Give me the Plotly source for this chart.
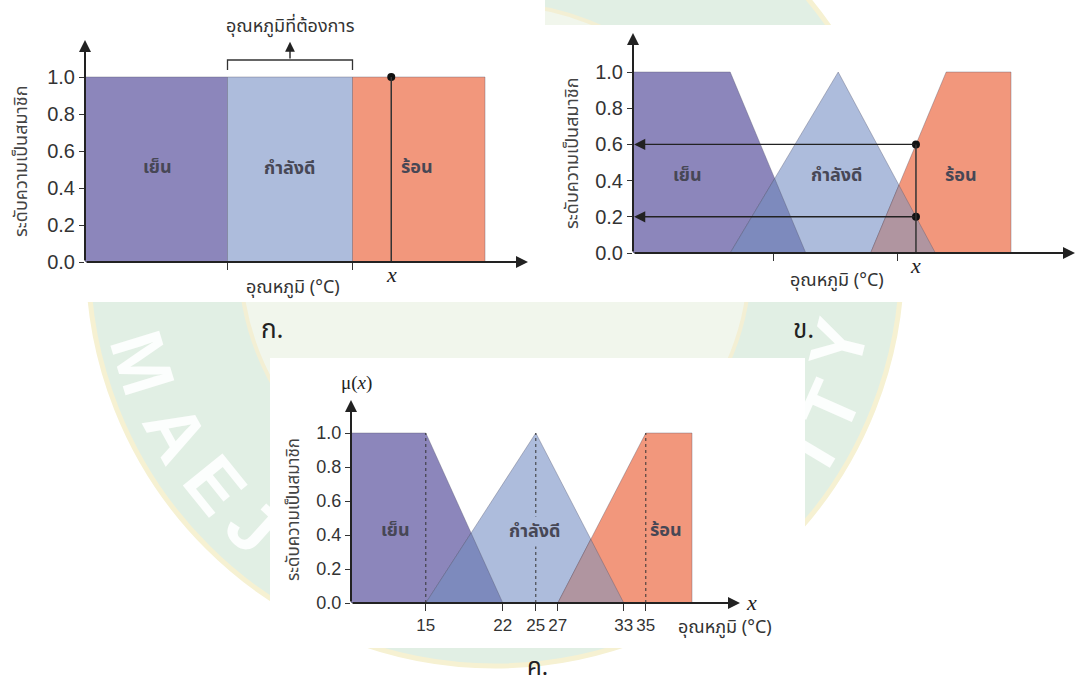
import plotly.graph_objects as go

W, H = 1078, 688

# ---------------- data ----------------
levels = [0.0, 0.2, 0.4, 0.6, 0.8, 1.0]
level_text = ["0.0", "0.2", "0.4", "0.6", "0.8", "1.0"]
set_names = ["เย็น", "กำลังดี", "ร้อน"]

# ก. crisp sets: boundaries of cold | good | hot, and the sample temperature
crisp_edges = [8.6, 20.0, 30.0, 40.6]
crisp_x = 33.1
crisp_ticks = [20.0, 30.0]

# ข. fuzzy sets (trapezoid / triangle break points)
b_cold = [6.0, 15.0, 22.0]
b_good = [15.0, 25.0, 34.0]
b_hot = [28.0, 35.0, 41.0]
b_x = 32.2
b_ticks = [19.0, 30.5]

# ค. fuzzy sets with labelled break points
c_cold = [8.2, 15.0, 22.0]
c_good = [15.0, 25.0, 33.0]
c_hot = [27.0, 35.0, 39.2]
c_ticks = [15, 22, 25, 27, 33, 35]

# ---------------- style ----------------
COLD = "#8c86bb"
GOOD = "#adbcdc"
HOT = "#f2977c"
COLD_GOOD = "#7d8abd"
GOOD_HOT = "#b095a0"
EDGE = "rgba(80,80,105,0.45)"
AXIS = "#222222"
LABEL = "#474755"
THAI = "Noto Sans Thai, Loma, Garuda, Tahoma, Noto Sans, sans-serif"
NUM = "Liberation Sans, Arial, sans-serif"
SERIF = "Liberation Serif, Times New Roman, serif"
MINT = "#e1efe4"


def px(x):
    return x / W


def py(y):
    return 1 - y / H


def intersect(p1, p2, p3, p4):
    (x1, y1), (x2, y2), (x3, y3), (x4, y4) = p1, p2, p3, p4
    d = (x1 - x2) * (y3 - y4) - (y1 - y2) * (x3 - x4)
    t = ((x1 - x3) * (y3 - y4) - (y1 - y3) * (x3 - x4)) / d
    return x1 + t * (x2 - x1), y1 + t * (y2 - y1)


def cold_poly(c):
    return [(c[0], 0), (c[0], 1), (c[1], 1), (c[2], 0)]


def good_poly(g):
    return [(g[0], 0), (g[1], 1), (g[2], 0)]


def hot_poly(h):
    return [(h[0], 0), (h[1], 1), (h[2], 1), (h[2], 0)]


def overlap_cold_good(c, g):
    xi, yi = intersect((c[1], 1), (c[2], 0), (g[0], 0), (g[1], 1))
    return [(g[0], 0), (xi, yi), (c[2], 0)]


def overlap_good_hot(g, h):
    xi, yi = intersect((g[1], 1), (g[2], 0), (h[0], 0), (h[1], 1))
    return [(h[0], 0), (xi, yi), (g[2], 0)]


def mu_falling(pts, x):
    return (pts[2] - x) / (pts[2] - pts[1])


def mu_rising(pts, x):
    return (x - pts[0]) / (pts[1] - pts[0])


fig = go.Figure()


def add_poly(pts, color, xa, ya):
    xs = [p[0] for p in pts] + [pts[0][0]]
    ys = [p[1] for p in pts] + [pts[0][1]]
    fig.add_trace(go.Scatter(x=xs, y=ys, xaxis=xa, yaxis=ya, mode="lines",
                             fill="toself", fillcolor=color,
                             line=dict(color=EDGE, width=0.8),
                             hoverinfo="skip", showlegend=False))


# ---------- panel ก ----------
crisp_colors = [COLD, GOOD, HOT]
for i in range(3):
    x0, x1 = crisp_edges[i], crisp_edges[i + 1]
    add_poly([(x0, 0), (x0, 1), (x1, 1), (x1, 0)], crisp_colors[i], "x", "y")

# ---------- panel ข ----------
add_poly(cold_poly(b_cold), COLD, "x2", "y2")
add_poly(good_poly(b_good), GOOD, "x2", "y2")
add_poly(hot_poly(b_hot), HOT, "x2", "y2")
add_poly(overlap_cold_good(b_cold, b_good), COLD_GOOD, "x2", "y2")
add_poly(overlap_good_hot(b_good, b_hot), GOOD_HOT, "x2", "y2")

# ---------- panel ค ----------
add_poly(cold_poly(c_cold), COLD, "x3", "y3")
add_poly(good_poly(c_good), GOOD, "x3", "y3")
add_poly(hot_poly(c_hot), HOT, "x3", "y3")
add_poly(overlap_cold_good(c_cold, c_good), COLD_GOOD, "x3", "y3")
add_poly(overlap_good_hot(c_good, c_hot), GOOD_HOT, "x3", "y3")

# membership values read at the sample temperatures
b_hot_mu = mu_rising(b_hot, b_x)
b_good_mu = mu_falling(b_good, b_x)

fig.add_trace(go.Scatter(x=[crisp_x], y=[1.0], xaxis="x", yaxis="y", mode="markers",
                         marker=dict(color="#111", size=8), hoverinfo="skip", showlegend=False))
fig.add_trace(go.Scatter(x=[b_x, b_x], y=[b_hot_mu, b_good_mu], xaxis="x2", yaxis="y2",
                         mode="markers", marker=dict(color="#111", size=8),
                         hoverinfo="skip", showlegend=False))

# ---------- axes ----------
A_X = (85, 528, crisp_edges[0], 12.5)
B_X = (633, 1075, b_cold[0], 10.8)
C_X = (351, 740, c_cold[0], 11.0)
A_Y = (262, 40, 185.0)
B_Y = (253, 33, 181.0)
C_Y = (603, 400, 170.0)


def xrange_of(spec):
    p0, p1, v0, scale = spec
    return [v0, v0 + (p1 - p0) / scale]


def yrange_of(spec):
    b, t, scale = spec
    return [0, (b - t) / scale]


def yaxis_cfg(spec, size):
    b, t, _ = spec
    return dict(domain=[py(b), py(t)], range=yrange_of(spec), tickvals=levels,
                ticktext=level_text, ticks="outside", ticklen=5, tickwidth=1.2,
                tickcolor="#333", showgrid=False, zeroline=False, showline=False,
                tickfont=dict(family=NUM, size=size, color="#333"), automargin=False,
                fixedrange=True)


def xaxis_cfg(spec, tickvals, ticktext, ya):
    p0, p1, _, _ = spec
    return dict(domain=[px(p0), px(p1)], range=xrange_of(spec), tickvals=tickvals,
                ticktext=ticktext, ticks="outside", ticklen=7, tickwidth=1.2,
                tickcolor="#333", showgrid=False, zeroline=False, showline=False,
                tickfont=dict(family=NUM, size=17, color="#333"), automargin=False,
                anchor=ya, fixedrange=True)


ra, rb, rc = xrange_of(A_X), xrange_of(B_X), xrange_of(C_X)
ya_top, yb_top, yc_top = yrange_of(A_Y)[1], yrange_of(B_Y)[1], yrange_of(C_Y)[1]

annotations = []
shapes = []


def arrow(xa, ya, x, y, ax, ay, width=2.0, size=1.2):
    annotations.append(dict(xref=xa, yref=ya, axref=xa, ayref=ya, x=x, y=y, ax=ax, ay=ay,
                            text="", showarrow=True, arrowhead=2, arrowsize=size,
                            arrowwidth=width, arrowcolor=AXIS))


def text(xp, yp, s, size, color=LABEL, family=THAI, angle=0, **kw):
    d = dict(xref="paper", yref="paper", x=px(xp), y=py(yp), text=s, showarrow=False,
             xanchor="center", yanchor="middle",
             font=dict(family=family, size=size, color=color), textangle=angle)
    d.update(kw)
    annotations.append(d)


# ---------- background emblem ----------
cx, cy, r = 495, 259, 407
shapes.append(dict(type="circle", xref="paper", yref="paper", layer="below",
                   x0=px(cx - r), x1=px(cx + r), y0=py(cy + r), y1=py(cy - r),
                   fillcolor=MINT, line=dict(color="#f6f1d2", width=5)))
ri = 255
shapes.append(dict(type="circle", xref="paper", yref="paper", layer="below",
                   x0=px(cx - ri), x1=px(cx + ri), y0=py(cy + ri), y1=py(cy - ri),
                   fillcolor="#f1f6ec", line=dict(color="#f3efd4", width=4)))
for (x0, y0, x1, y1) in [(0, 0, 545, 302), (545, 25, 1078, 302), (270, 358, 805, 648)]:
    shapes.append(dict(type="rect", xref="paper", yref="paper", layer="below",
                       x0=px(x0), x1=px(x1), y0=py(y1), y1=py(y0),
                       fillcolor="white", line=dict(width=0)))
for ch, (xp_, yp_, ang) in zip("MAEJ", [(143, 363, 73), (176, 432, 61), (215, 484, 51), (253, 525, 42)]):
    text(xp_, yp_, f"<b>{ch}</b>", 74, color="rgba(255,255,255,0.9)", family=NUM, angle=ang)
for ch, (xp_, yp_, ang) in zip("YTI", [(838, 345, -76), (830, 407, -66), (810, 450, -59)]):
    text(xp_, yp_, f"<b>{ch}</b>", 74, color="rgba(255,255,255,0.9)", family=NUM, angle=ang)

# axis arrows
arrow("x", "y", ra[0], ya_top, ra[0], 0)
arrow("x", "y", ra[1], 0, ra[0], 0)
arrow("x2", "y2", rb[0], yb_top, rb[0], 0)
arrow("x2", "y2", rb[1], 0, rb[0], 0)
arrow("x3", "y3", rc[0], yc_top, rc[0], 0)
arrow("x3", "y3", rc[1], 0, rc[0], 0)

# ก: sample line, bracket and arrow to the desired range
shapes.append(dict(type="line", xref="x", yref="y", x0=crisp_x, x1=crisp_x, y0=0, y1=1,
                   line=dict(color="#333", width=1.5)))
mid = (crisp_edges[1] + crisp_edges[2]) / 2
shapes.append(dict(type="path", xref="x", yref="y",
                   path=f"M {crisp_edges[1]},1.038 L {crisp_edges[1]},1.092 "
                        f"L {crisp_edges[2]},1.092 L {crisp_edges[2]},1.038",
                   line=dict(color="#333", width=1.3)))
arrow("x", "y", mid, 1.19, mid, 1.092, width=1.4, size=1.4)

# ข: sample line and arrows back to the membership axis
shapes.append(dict(type="line", xref="x2", yref="y2", x0=b_x, x1=b_x, y0=0, y1=b_hot_mu,
                   line=dict(color="#333", width=1.5)))
arrow("x2", "y2", rb[0] + 0.1, b_hot_mu, b_x, b_hot_mu, width=1.4, size=1.6)
arrow("x2", "y2", rb[0] + 0.1, b_good_mu, b_x, b_good_mu, width=1.4, size=1.6)

# ค: dotted guides at the set cores
for xv in [c_cold[1], c_good[1], c_hot[1]]:
    shapes.append(dict(type="line", xref="x3", yref="y3", x0=xv, x1=xv, y0=0, y1=1,
                       line=dict(color="#333", width=1, dash="dot")))

# set labels
for xa, pos in [("x", [(157, 167), (290, 168), (417, 167)]),
                ("x2", [(687, 175), (837, 175), (961, 175)]),
                ("x3", [(395, 530), (535, 531), (666, 530)])]:
    for k, (xp_, yp_) in enumerate(pos):
        extra = {}
        if xa == "x3" and k == 1:
            extra = dict(bgcolor=GOOD, borderpad=1)
        text(xp_, yp_, f"<b>{set_names[k]}</b>", 18, color=LABEL, **extra)

# axis titles
ytitle = "ระดับความเป็นสมาชิก"
xtitle = "อุณหภูมิ (°C)"
text(22, 161, ytitle, 18, color="#444", angle=-90)
text(572, 153, ytitle, 18, color="#444", angle=-90)
text(294, 510, ytitle, 17, color="#444", angle=-90)
text(293, 287, xtitle, 18, color="#333")
text(837, 280, xtitle, 18, color="#333")
text(725, 627, xtitle, 18, color="#333")
text(290, 27, "อุณหภูมิที่ต้องการ", 18, color="#333")

# variable symbols
text(391, 275, "<i>x</i>", 22, color="#222", family=SERIF)
text(915, 265, "<i>x</i>", 22, color="#222", family=SERIF)
text(752, 602, "<i>x</i>", 22, color="#222", family=SERIF)
text(356, 383, "μ(<i>x</i>)", 19, color="#222", family=SERIF)

# captions
text(272, 330, "ก.", 26, color="#222")
text(803, 330, "ข.", 26, color="#222")
text(537, 668, "ค.", 24, color="#222")

fig.update_layout(
    width=W, height=H, margin=dict(l=0, r=0, t=0, b=0),
    paper_bgcolor="white", plot_bgcolor="rgba(0,0,0,0)", showlegend=False,
    xaxis=xaxis_cfg(A_X, crisp_ticks, ["", ""], "y"),
    yaxis=yaxis_cfg(A_Y, 20) | dict(anchor="x"),
    xaxis2=xaxis_cfg(B_X, b_ticks, ["", ""], "y2"),
    yaxis2=yaxis_cfg(B_Y, 20) | dict(anchor="x2"),
    xaxis3=xaxis_cfg(C_X, c_ticks, [str(t) for t in c_ticks], "y3"),
    yaxis3=yaxis_cfg(C_Y, 18) | dict(anchor="x3"),
    shapes=shapes, annotations=annotations,
)

fig.write_html("out.html")
